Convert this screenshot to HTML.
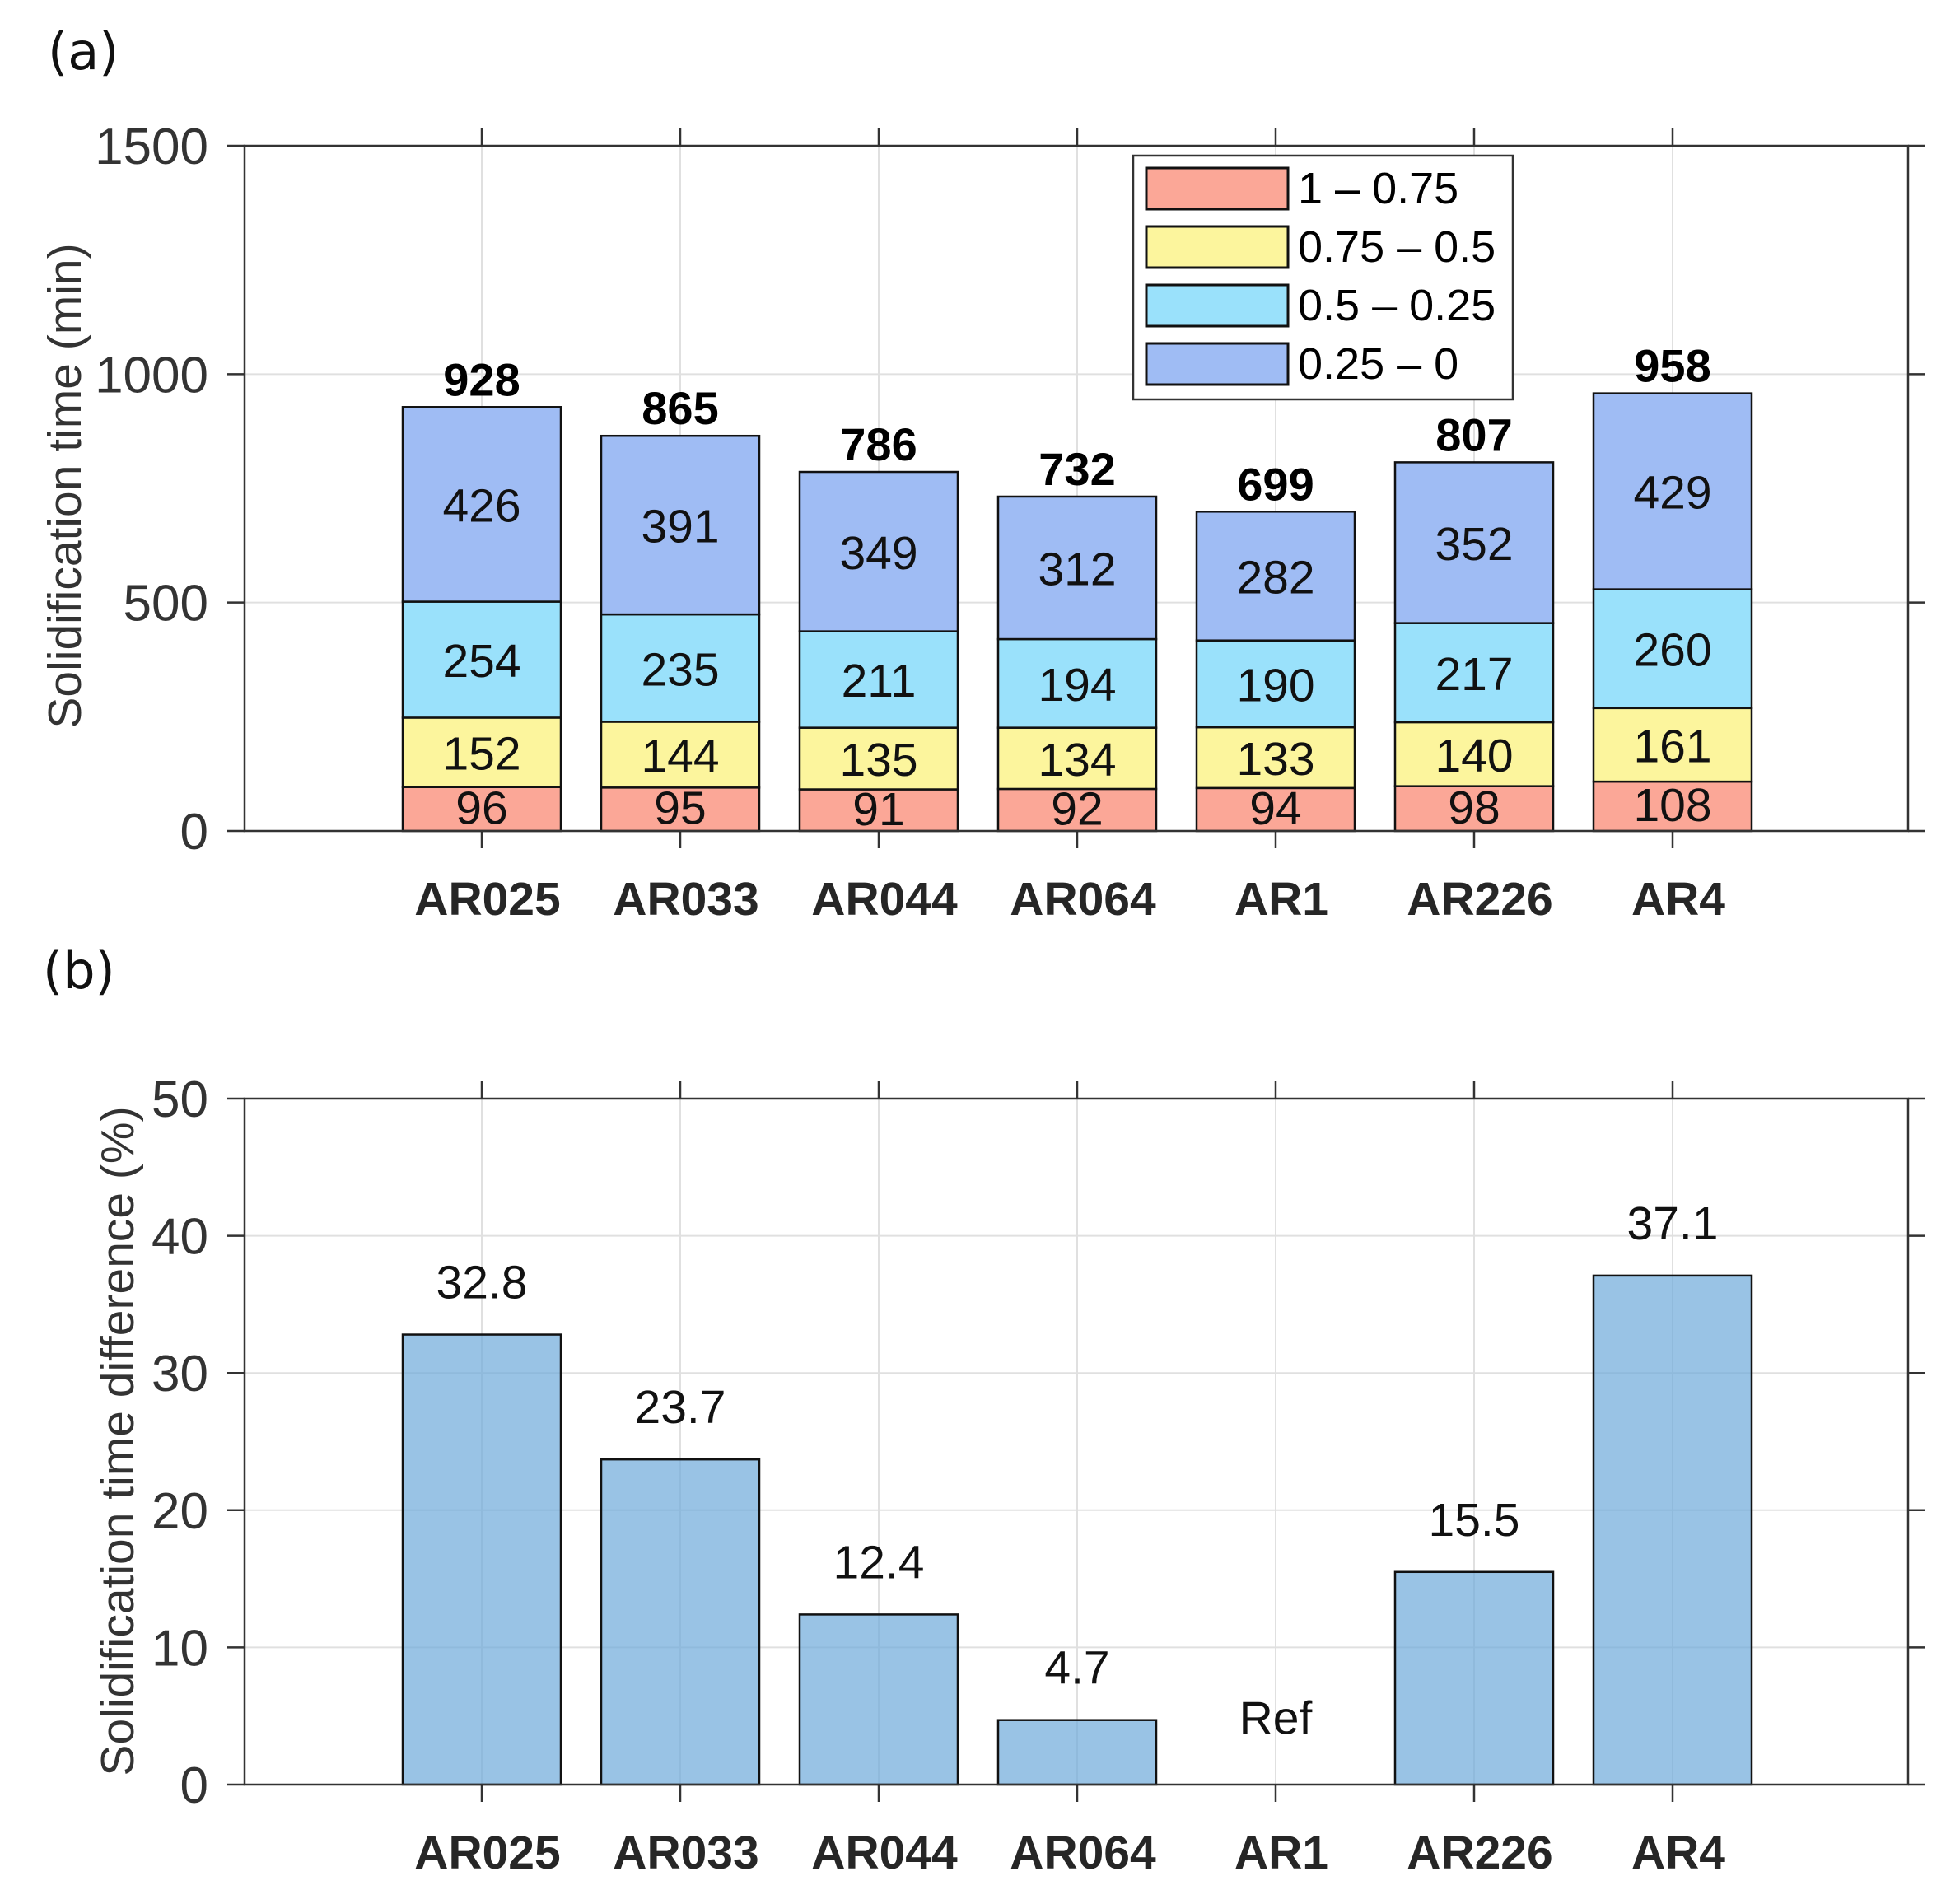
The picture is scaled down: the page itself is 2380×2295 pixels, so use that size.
<!DOCTYPE html>
<html><head><meta charset="utf-8"><style>
html,body{margin:0;padding:0;background:#fff;}
svg{display:block;}
text{font-family:"Liberation Sans",Arial,sans-serif;}
</style></head><body>
<svg id="fig" width="2380" height="2295" viewBox="0 0 2380 2295" xmlns="http://www.w3.org/2000/svg">
<text x="58" y="84" font-size="62" fill="#111" style="font-family:'DejaVu Sans',sans-serif">(a)</text>
<text x="52" y="1200" font-size="62" fill="#111" style="font-family:'DejaVu Sans',sans-serif">(b)</text>
<text transform="translate(98,590) rotate(-90)" text-anchor="middle" font-size="57" fill="#333">Solidification time (min)</text>
<text transform="translate(162,1750) rotate(-90)" text-anchor="middle" font-size="57" fill="#333">Solidification time difference (%)</text>
<g id="pa"></g>
<g id="pb"></g>
</svg>
<script>
const categories = ["AR025","AR033","AR044","AR064","AR1","AR226","AR4"];
const seg1 = [96,95,91,92,94,98,108];
const seg2 = [152,144,135,134,133,140,161];
const seg3 = [254,235,211,194,190,217,260];
const seg4 = [426,391,349,312,282,352,429];
const totals = [928,865,786,732,699,807,958];
const diffs = [32.8,23.7,12.4,4.7,0,15.5,37.1];
const diffLabels = ["32.8","23.7","12.4","4.7","Ref","15.5","37.1"];
const yTicksA = [0,500,1000,1500];
const yTicksB = [0,10,20,30,40,50];
const legendLabels = ["1 \u2013 0.75","0.75 \u2013 0.5","0.5 \u2013 0.25","0.25 \u2013 0"];

const NS="http://www.w3.org/2000/svg";
const segColors=["#fba797","#fcf59d","#9ae1fb","#9fbcf4"];
function mk(p,tag,a,txt){const e=document.createElementNS(NS,tag);for(const k in a)e.setAttribute(k,a[k]);if(txt!==undefined)e.textContent=txt;p.appendChild(e);return e;}
const L=297,R=2317,x0=585,dx=241,bw=192;
function xs(i){return x0+i*dx;}

function frame(g,top,bot,ticks,ymax){
  const ys=v=>bot-(v/ymax)*(bot-top);
  ticks.forEach(t=>{const y=ys(t);
    if(t>0&&t<ymax){const gl=mk(g,'line',{x1:L,x2:R,y1:y,y2:y,stroke:'#e0e0e0','stroke-width':2});
      
      }
    mk(g,'line',{x1:L-21,x2:L,y1:y,y2:y,stroke:'#333','stroke-width':2.5});
    mk(g,'line',{x1:R,x2:R+21,y1:y,y2:y,stroke:'#333','stroke-width':2.5});
    const tl=mk(g,'text',{x:L-44,y:y+22,'text-anchor':'end','font-size':62,fill:'#333'},String(t));
    
    
  });
  categories.forEach((c,i)=>{const x=xs(i);
    const gl=mk(g,'line',{x1:x,x2:x,y1:top,y2:bot,stroke:'#e0e0e0','stroke-width':2});
    
    
    mk(g,'line',{x1:x,x2:x,y1:top-21,y2:top,stroke:'#333','stroke-width':2.5});
    mk(g,'line',{x1:x,x2:x,y1:bot,y2:bot+21,stroke:'#333','stroke-width':2.5});
    const tl=mk(g,'text',{x:x+7,y:bot+102,'text-anchor':'middle','font-size':57,'font-weight':'bold',fill:'#262626'},c);
    
    
  });
  return ys;
}
function box(g,top,bot){mk(g,'rect',{x:L,y:top,width:R-L,height:bot-top,fill:'none',stroke:'#333','stroke-width':2.5});}

// Panel A
const ga=document.getElementById('pa');
const topA=177,botA=1009;
const ysA=frame(ga,topA,botA,yTicksA,1500);
const segs=[seg1,seg2,seg3,seg4];
categories.forEach((c,i)=>{let cum=0;const x=xs(i)-bw/2;
  segs.forEach((s,k)=>{const v=s[i];const y1=ysA(cum+v),y0=ysA(cum);
    const r=mk(ga,'rect',{x:x,y:y1,width:bw,height:y0-y1,fill:segColors[k],stroke:'#111','stroke-width':2.5});
    
    
    const t=mk(ga,'text',{x:xs(i),y:(y0+y1)/2+(k===0?18:21),'text-anchor':'middle','font-size':57,fill:'#111'},String(v));
    
    
    cum+=v;});
  const tt=mk(ga,'text',{x:xs(i),y:ysA(totals[i])-14,'text-anchor':'middle','font-size':56,'font-weight':'bold',fill:'#000'},String(totals[i]));
  
  
});
box(ga,topA,botA);
// Legend
const lg=mk(ga,'g',{});


mk(lg,'rect',{x:1376,y:189,width:461,height:296,fill:'#fff',stroke:'#333','stroke-width':2.5});
legendLabels.forEach((lab,k)=>{const cy=229+k*71;
  const sw=mk(lg,'rect',{x:1392,y:cy-25,width:172,height:50,fill:segColors[k],stroke:'#111','stroke-width':3});
  
  
  const t=mk(lg,'text',{x:1576,y:cy+18,'font-size':54,fill:'#000','font-family':'"Liberation Serif",serif'},lab);
  
  
});

// Panel B
const gb=document.getElementById('pb');
const topB=1334,botB=2167;
const ysB=frame(gb,topB,botB,yTicksB,50);
categories.forEach((c,i)=>{const v=diffs[i];
  if(v>0){const r=mk(gb,'rect',{x:xs(i)-bw/2,y:ysB(v),width:bw,height:botB-ysB(v),fill:'rgba(110,170,218,0.7)',stroke:'#111','stroke-width':2.5});
    
    }
  const ty=v>0?ysB(v)-44:ysB(3.7);
  const t=mk(gb,'text',{x:xs(i),y:ty,'text-anchor':'middle','font-size':57,fill:'#111'},diffLabels[i]);
  
  
});
box(gb,topB,botB);
</script>
</body></html>
